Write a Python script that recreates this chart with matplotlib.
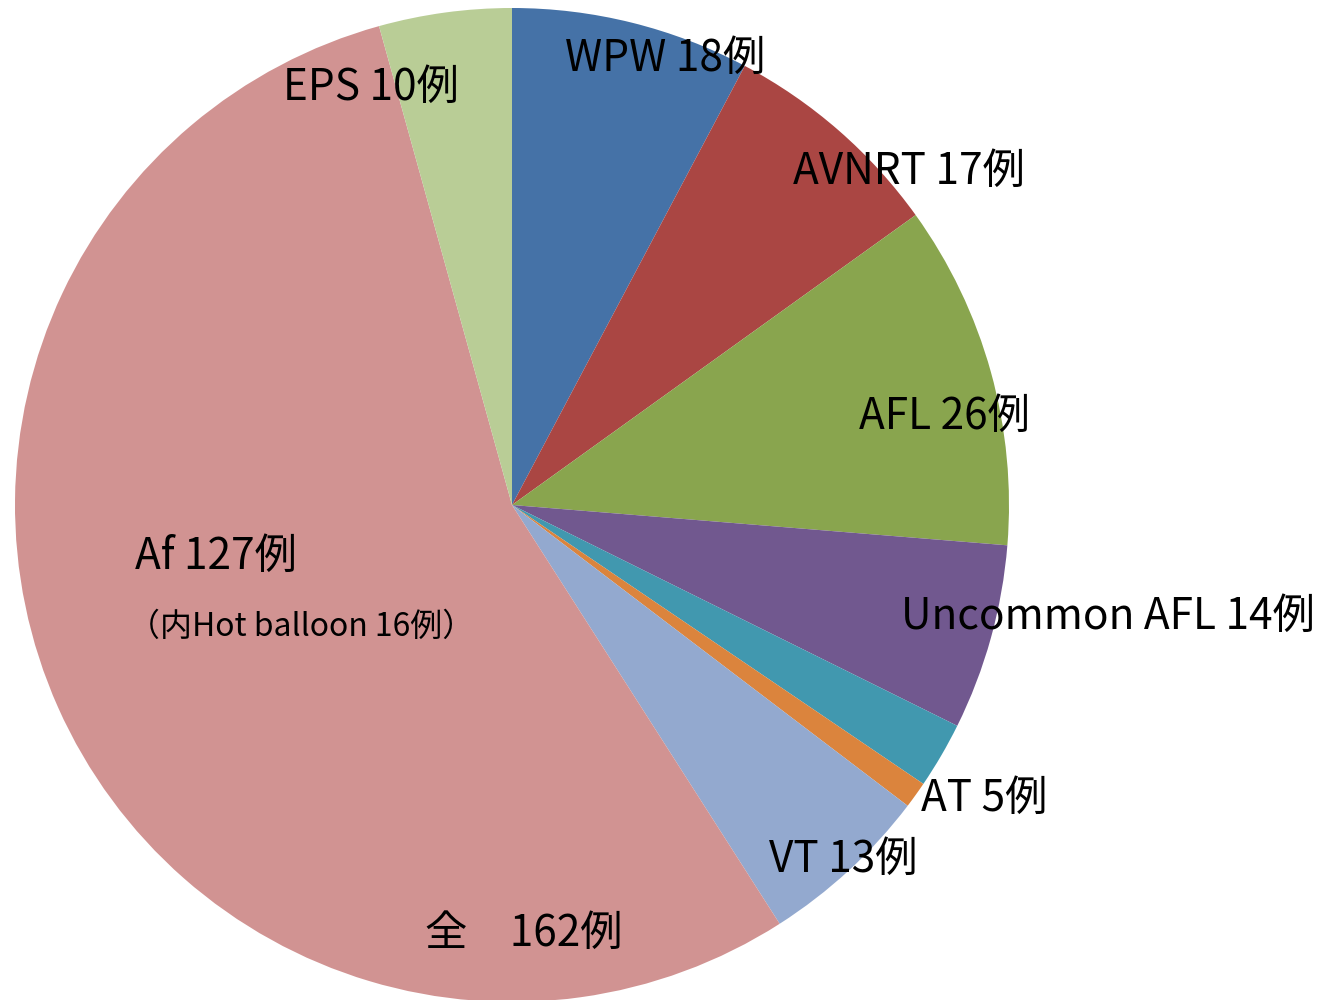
import matplotlib
matplotlib.use("Agg")
import matplotlib.pyplot as plt

plt.rcParams['font.family'] = ['Noto Sans CJK JP', 'DejaVu Sans']

# slices, clockwise from 12 o'clock
categories = ["WPW", "AVNRT", "AFL", "Uncommon AFL", "AT", "other", "VT", "Af", "EPS"]
counts = [18, 17, 26, 14, 5, 2, 13, 127, 10]
colors = ["#4572A7", "#AA4643", "#89A54E", "#71588F", "#4198AF",
          "#DB843D", "#93A9CF", "#D19392", "#B9CD96"]

# label text and pixel anchor (left edge, vertical centre)
labels = ["WPW 18例", "EPS 10例", "AVNRT 17例", "AFL 26例", "Uncommon AFL 14例",
          "AT 5例", "VT 13例", "Af 127例", "全　162例"]
label_px = [(565, 59), (283, 88), (793, 172), (859, 417), (901, 617),
            (921, 799), (769, 860), (135, 557), (425, 934)]
sub_label = "（内Hot balloon 16例）"
sub_px = (128, 627)

W, H = 1320, 1000
cx, cy, R = 512, 505, 497

fig = plt.figure(figsize=(W / 100, H / 100), dpi=100)
ax = fig.add_axes([0, 0, 1, 1])
ax.pie(counts, colors=colors, startangle=90, counterclock=False, radius=1,
       wedgeprops=dict(linewidth=0))
ax.set_xlim(-cx / R, (W - cx) / R)
ax.set_ylim(-(H - cy) / R, cy / R)
ax.set_aspect('auto')
ax.axis('off')


def to_data(px, py):
    return (px - cx) / R, (cy - py) / R


for txt, (px, py) in zip(labels, label_px):
    x, y = to_data(px, py)
    ax.text(x, y, txt, fontsize=30.5, ha='left', va='center', color='black')

x, y = to_data(*sub_px)
ax.text(x, y, sub_label, fontsize=23, ha='left', va='center', color='black')

fig.savefig("out.png", dpi=100)
